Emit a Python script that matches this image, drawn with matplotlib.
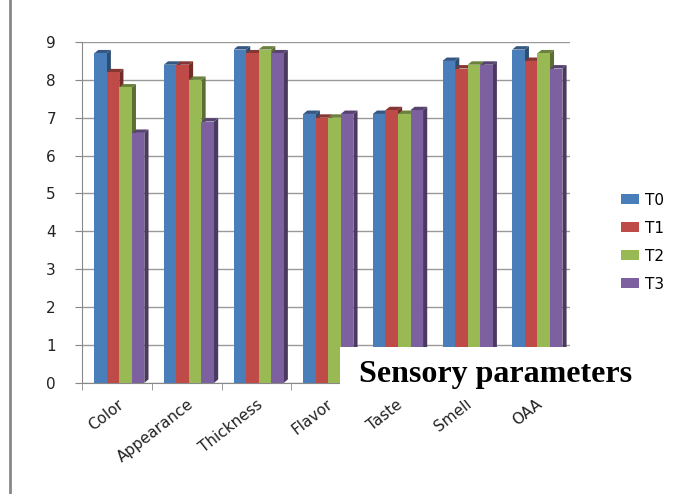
import matplotlib.pyplot as plt
import numpy as np
from matplotlib.patches import Polygon, Rectangle
from matplotlib.lines import Line2D
from matplotlib.colors import to_rgb

# Sample data
categories = ['Color', 'Appearance', 'Thickness', 'Flavor', 'Taste', 'Smell', 'OAA']
t0 = [8.7, 8.4, 8.8, 7.1, 7.1, 8.5, 8.8]
t1 = [8.2, 8.4, 8.7, 7.0, 7.2, 8.3, 8.5]
t2 = [7.8, 8.0, 8.8, 7.0, 7.1, 8.4, 8.7]
t3 = [6.6, 6.9, 8.7, 7.1, 7.2, 8.4, 8.3]
series = {'T0': t0, 'T1': t1, 'T2': t2, 'T3': t3}
colors = ['#4a7ebb', '#be4b48', '#98b954', '#7d60a0']

fig = plt.figure(figsize=(6.86, 4.94), dpi=100)
ax = fig.add_axes([0.12, 0.225, 0.711, 0.69])

bar_width = 0.18
index = np.arange(len(categories))
dx = 0.06   # depth of the fake 3D side
dy = 0.09

for i, (name, vals) in enumerate(series.items()):
    x = index + (i - 1.5) * bar_width + 0.03
    c = np.array(to_rgb(colors[i]))
    dark = c * 0.6
    for xi, v in zip(x, vals):
        # right side face
        ax.add_patch(Polygon([(xi + bar_width / 2, 0), (xi + bar_width / 2 + dx, dy),
                              (xi + bar_width / 2 + dx, v + dy), (xi + bar_width / 2, v)],
                             closed=True, facecolor=dark, edgecolor='none', zorder=2))
        # top face
        ax.add_patch(Polygon([(xi - bar_width / 2, v), (xi - bar_width / 2 + dx, v + dy),
                              (xi + bar_width / 2 + dx, v + dy), (xi + bar_width / 2, v)],
                             closed=True, facecolor=c * 0.7, edgecolor='none', zorder=2))
    ax.bar(x, vals, width=bar_width, color=colors[i], label=name, zorder=3)

ax.set_xlim(-0.5, 6.5)
ax.set_ylim(0, 9)
ax.set_yticks(range(10))
ax.set_xticks(index - 0.5, minor=True)
ax.set_xticks(index)
ax.set_xticklabels(categories, rotation=38, ha='right', rotation_mode='anchor',
                   fontsize=11, color='#222222')
ax.tick_params(axis='x', which='major', length=0, pad=10)
ax.tick_params(axis='x', which='minor', length=5, color='#888888')
ax.tick_params(axis='y', length=5, color='#888888', labelsize=11, labelcolor='#222222', pad=14)
ax.grid(axis='y', color='#999999', linewidth=1, zorder=0)
for s in ['top', 'right']:
    ax.spines[s].set_visible(False)
ax.spines['left'].set_color('#888888')
ax.spines['bottom'].set_color('#888888')
ax.set_axisbelow(True)

# legend
fig.legend(loc='center left', bbox_to_anchor=(0.885, 0.51), frameon=False,
           fontsize=11, handlelength=1.2, handleheight=0.6, labelspacing=0.85,
           handletextpad=0.4)

# left border line
fig.add_artist(Line2D([0.015, 0.015], [0, 1], color='#888888', linewidth=2))

# white box with axis title
fig.add_artist(Rectangle((0.495, 0.19), 0.45, 0.108, transform=fig.transFigure,
                         facecolor='white', edgecolor='none', zorder=5))
fig.text(0.722, 0.212, 'Sensory parameters', fontsize=23, fontweight='bold',
         family='Liberation Serif', ha='center', va='bottom', zorder=6)

plt.savefig('out.png', dpi=100)
